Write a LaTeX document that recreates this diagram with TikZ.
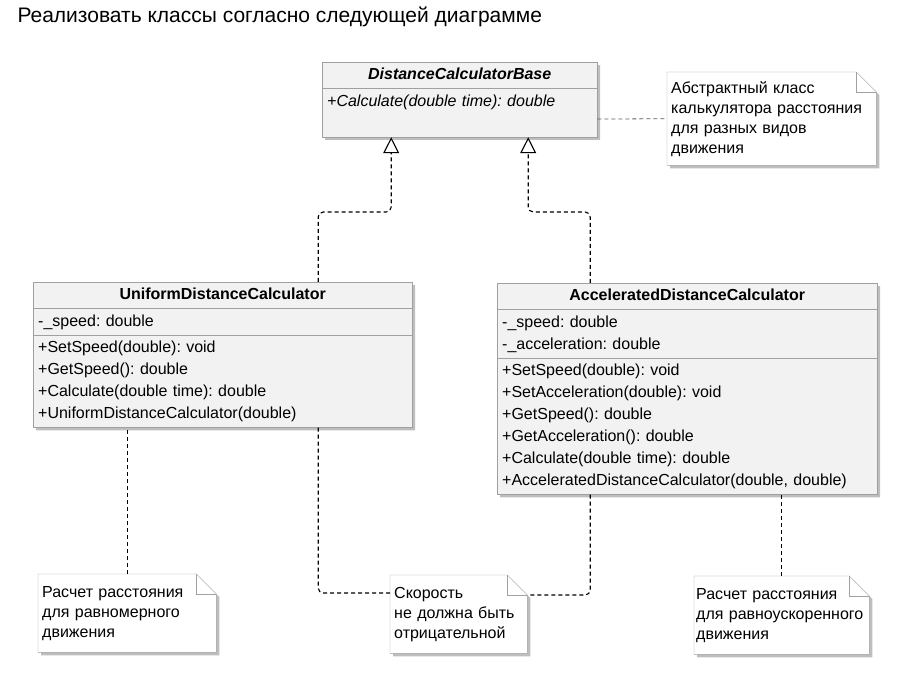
\documentclass[tikz,border=0pt]{standalone}
\usepackage{fontspec}
\setmainfont{Liberation Sans}
\usetikzlibrary{shapes.multipart,shadows,arrows.meta,backgrounds}
\setlength{\parindent}{0pt}
\frenchspacing
\definecolor{classfill}{RGB}{242,242,242}
\definecolor{boxline}{RGB}{160,160,160}
\definecolor{shadowgray}{RGB}{190,190,190}
\definecolor{notelink}{RGB}{90,90,90}
\tikzstyle{umlclass} = [rectangle split, rectangle split parts=3, draw=boxline, fill=classfill, anchor=north west, inner xsep=5pt, inner ysep=2pt, align=left, font=\fontsize{16}{22}\selectfont, drop shadow={shadow xshift=3pt, shadow yshift=-3pt, fill=shadowgray, opacity=1}]
\tikzstyle{note} = [anchor=north west, inner xsep=4pt, inner ysep=7pt, minimum height=78pt, align=left, font=\fontsize{16}{20}\selectfont]
\tikzstyle{link} = [dash pattern=on 4pt off 3pt, line width=1.1pt, rounded corners=5pt]
\tikzstyle{realize} = [link, -{Triangle[open,length=16pt,width=16pt]}]

\begin{document}
\begin{tikzpicture}[x=1pt, y=-1pt]
        \useasboundingbox (0,0) rectangle (898,676);
        \node[anchor=west, font=\fontsize{21}{24}\selectfont] (title) at (14,17) {Реализовать классы согласно следующей диаграмме};

        \node[umlclass, rectangle split parts=2, text width=265pt] (base) at (322,62)
            {\centering\strut\textbf{\textit{DistanceCalculatorBase}}\par
             \nodepart{two}\strut\textit{+Calculate(double time): double}\\\strut};
        \node[umlclass, text width=369pt] (uniform) at (33,282)
            {\centering\strut\textbf{UniformDistanceCalculator}\par
             \nodepart{two}\strut-\_speed: double
             \nodepart{three}\strut+SetSpeed(double): void\\
             \strut+GetSpeed(): double\\
             \strut+Calculate(double time): double\\
             \strut+UniformDistanceCalculator(double)};
        \node[umlclass, text width=370pt] (accel) at (497,283)
            {\centering\strut\textbf{AcceleratedDistanceCalculator}\par
             \nodepart{two}\strut-\_speed: double\\
             \strut-\_acceleration: double
             \nodepart{three}\strut+SetSpeed(double): void\\
             \strut+SetAcceleration(double): void\\
             \strut+GetSpeed(): double\\
             \strut+GetAcceleration(): double\\
             \strut+Calculate(double time): double\\
             \strut+AcceleratedDistanceCalculator(double, double)};

        \node[note, text width=201pt, minimum height=93pt] (basenote) at (667,72)
            {Абстрактный класс\\калькулятора расстояния\\для разных видов\\движения};
        \node[note, text width=170pt] (uniformnote) at (38,574)
            {Расчет расстояния\\для равномерного\\движения};
        \node[note, text width=129pt] (speednote) at (390,575)
            {Скорость\\не должна быть\\отрицательной};
        \node[note, text width=171pt, inner xsep=2pt] (accelnote) at (694,576)
            {Расчет расстояния\\для равноускоренного\\движения};

        % note bodies with folded corner
        \begin{scope}[on background layer]
        \foreach \n in {basenote, uniformnote, speednote, accelnote} {
            \fill[shadowgray, transform canvas={shift={(3pt,-3pt)}}] (\n.north west) -- ([xshift=-20pt]\n.north east)
                -- ([yshift=-20pt]\n.north east) -- (\n.south east) -- (\n.south west) -- cycle;
            \filldraw[fill=white, draw=boxline] (\n.north west) -- ([xshift=-20pt]\n.north east)
                -- ([yshift=-20pt]\n.north east) -- (\n.south east) -- (\n.south west) -- cycle;
            \draw[boxline] ([xshift=-20pt]\n.north east) |- ([yshift=-20pt]\n.north east);
        }
        \end{scope}

        \draw[realize] ([xshift=95.5pt]uniform.north) -- ++(0,-70) -| ([xshift=-68.5pt]base.south);
        \draw[realize] ([xshift=-97pt]accel.north) -- ++(0,-71) -| ([xshift=68.5pt]base.south);

        \draw[notelink, dash pattern=on 4pt off 3pt, line width=0.8pt] ([yshift=-19.5pt]base.east) -- (basenote.west);
        \draw[link] (uniformnote.north) -- (uniformnote.north |- uniform.south);
        \draw[link] ([xshift=95.5pt]uniform.south) |- ([yshift=-18pt]speednote.north west);
        \draw[link] ([xshift=-97pt]accel.south) |- ([yshift=-20pt]speednote.north east);
        \draw[link] (accelnote.north) -- (accelnote.north |- accel.south);
\end{tikzpicture}
\end{document}
